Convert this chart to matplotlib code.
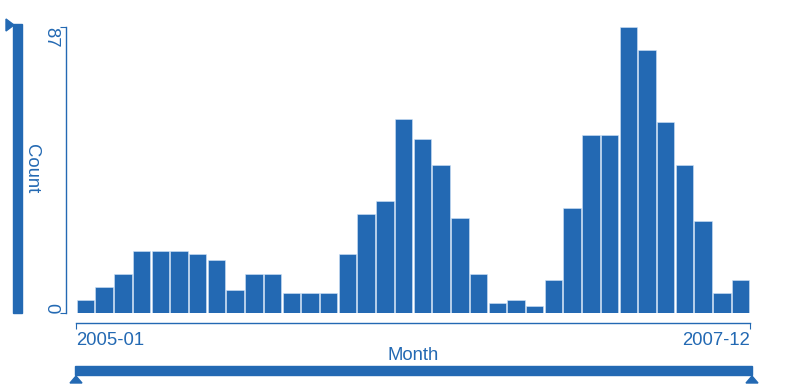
import matplotlib
matplotlib.use("Agg")
import matplotlib.pyplot as plt
from matplotlib.patches import Rectangle, Polygon

# monthly counts, 2005-01 .. 2007-12
months = ["2005-01", "2005-02", "2005-03", "2005-04", "2005-05", "2005-06",
          "2005-07", "2005-08", "2005-09", "2005-10", "2005-11", "2005-12",
          "2006-01", "2006-02", "2006-03", "2006-04", "2006-05", "2006-06",
          "2006-07", "2006-08", "2006-09", "2006-10", "2006-11", "2006-12",
          "2007-01", "2007-02", "2007-03", "2007-04", "2007-05", "2007-06",
          "2007-07", "2007-08", "2007-09", "2007-10", "2007-11", "2007-12"]
counts = [4, 8, 12, 19, 19, 19, 18, 16, 7, 12, 12, 6,
          6, 6, 18, 30, 34, 59, 53, 45, 29, 12, 3, 4,
          2, 10, 32, 54, 54, 87, 80, 58, 45, 28, 6, 10]

blue = "#2369b3"
fs = 13.3
plt.rcParams['font.family'] = ['Liberation Sans', 'DejaVu Sans']

W, H = 800, 389
fig = plt.figure(figsize=(8, 3.89), dpi=100)
ax = fig.add_axes([76 / W, 1 - 313 / H, (750 - 76) / W, (313 - 27) / H])

x = list(range(len(counts)))
ax.bar(x, counts, width=0.93, color=blue, edgecolor="#cfe3f7", linewidth=0.4)
ax.set_xlim(-0.5, len(counts) - 0.5)
ax.set_ylim(0, max(counts))

for s in ["top", "right"]:
    ax.spines[s].set_visible(False)
ax.spines["left"].set_position(("outward", 7))
ax.spines["bottom"].set_position(("outward", 7))
ax.spines["left"].set_bounds(0, max(counts))
ax.spines["bottom"].set_bounds(-0.5, len(counts) - 0.5)
for s in ["left", "bottom"]:
    ax.spines[s].set_color(blue)
    ax.spines[s].set_linewidth(1)

ax.set_yticks([0, max(counts)])
yl = ax.set_yticklabels(["0", str(max(counts))], rotation=-90)
yl[0].set_va("bottom")
yl[1].set_va("top")
ax.set_xticks([-0.5, len(counts) - 0.5])
xl = ax.set_xticklabels([months[0], months[-1]])
xl[0].set_ha("left")
xl[1].set_ha("right")
ax.tick_params(colors=blue, labelcolor=blue, length=4, labelsize=fs, direction="out")
ax.tick_params(axis="y", pad=1)
ax.tick_params(axis="x", pad=3)
yl[1].set_y(max(counts) + 2)

# axis title bars
fig.patches.append(Rectangle((13 / W, 1 - 313 / H), 9 / W, 289 / H,
                             transform=fig.transFigure, color=blue))
fig.patches.append(Polygon([(6 / W, 1 - 19 / H), (6 / W, 1 - 31 / H), (14 / W, 1 - 25 / H)],
                           closed=True, transform=fig.transFigure, color=blue))
fig.text(31 / W, 1 - 169 / H, "Count", rotation=-90, color=blue, fontsize=fs,
         ha="center", va="center")

fig.patches.append(Rectangle((75 / W, 1 - 375 / H), (752 - 75) / W, 9 / H,
                             transform=fig.transFigure, color=blue))
for cx in (76, 752):
    fig.patches.append(Polygon([(cx / W, 1 - 376 / H), ((cx - 6) / W, 1 - 383 / H),
                                ((cx + 6) / W, 1 - 383 / H)],
                               closed=True, transform=fig.transFigure, color=blue))
fig.text(413 / W, 1 - 355 / H, "Month", color=blue, fontsize=fs,
         ha="center", va="center")

fig.savefig("out.png", dpi=100)
